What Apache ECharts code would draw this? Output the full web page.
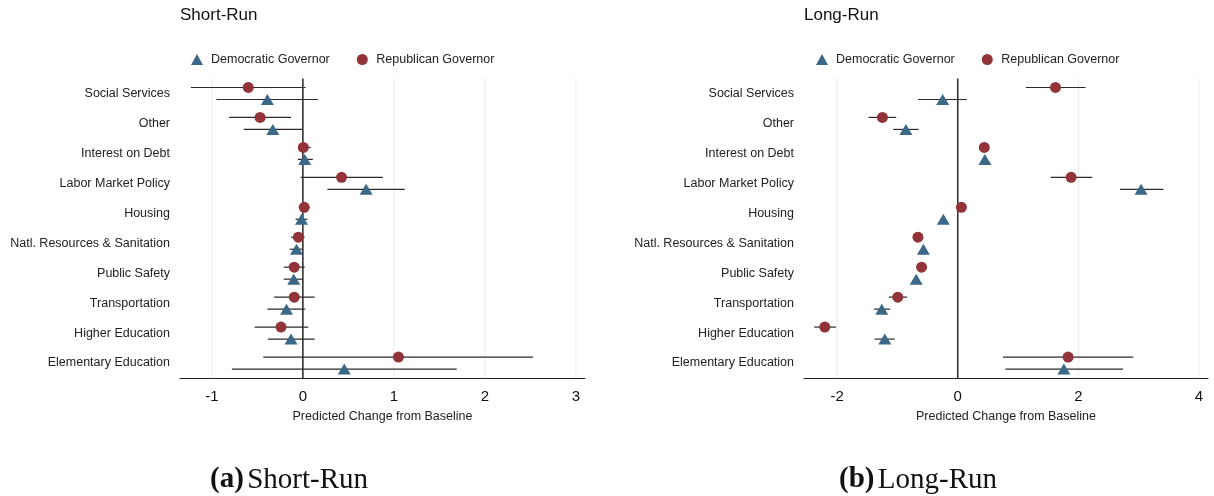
<!DOCTYPE html>
<html>
<head>
<meta charset="utf-8">
<script src="https://cdn.jsdelivr.net/npm/echarts@6/dist/echarts.min.js"></script>
<style>
html,body{margin:0;padding:0;background:#fff;}
#chart{width:1214px;height:496px;}
</style>
</head>
<body>
<div id="chart"></div>
<script>
const categories = ['Social Services','Other','Interest on Debt','Labor Market Policy','Housing','Natl. Resources & Sanitation','Public Safety','Transportation','Higher Education','Elementary Education'];

const shortDem   = [-0.39, -0.33, 0.02, 0.695, -0.015, -0.07, -0.10, -0.18, -0.13, 0.455];
const shortDemLo = [-0.95, -0.65, -0.055, 0.27, -0.08, -0.145, -0.21, -0.39, -0.385, -0.78];
const shortDemHi = [0.165, -0.01, 0.11, 1.12, 0.05, 0.0, 0.0, 0.025, 0.13, 1.69];
const shortRep   = [-0.60, -0.47, 0.005, 0.425, 0.015, -0.05, -0.095, -0.095, -0.24, 1.05];
const shortRepLo = [-1.23, -0.81, -0.04, -0.025, -0.03, -0.13, -0.21, -0.315, -0.53, -0.435];
const shortRepHi = [0.03, -0.13, 0.085, 0.88, 0.07, 0.02, 0.02, 0.13, 0.06, 2.53];

const longDem   = [-0.25, -0.86, 0.45, 3.04, -0.24, -0.57, -0.69, -1.26, -1.21, 1.76];
const longDemLo = [-0.66, -1.07, 0.43, 2.69, -0.26, -0.59, -0.71, -1.39, -1.38, 0.79];
const longDemHi = [0.15, -0.65, 0.47, 3.41, -0.22, -0.55, -0.67, -1.12, -1.045, 2.74];
const longRep   = [1.62, -1.25, 0.44, 1.88, 0.06, -0.66, -0.60, -0.995, -2.205, 1.83];
const longRepLo = [1.13, -1.48, 0.42, 1.54, 0.04, -0.68, -0.62, -1.14, -2.38, 0.75];
const longRepHi = [2.12, -1.02, 0.46, 2.23, 0.08, -0.64, -0.58, -0.84, -2.02, 2.91];

const shortTicks = [-1, 0, 1, 2, 3];
const longTicks = [-2, 0, 2, 4];

const DEM = 'Democratic Governor';
const REP = 'Republican Governor';
const DEM_COLOR = '#3b6887';
const REP_COLOR = '#923339';
const SANS = "'Liberation Sans', Arial, Helvetica, sans-serif";
const SERIF = "'Liberation Serif', 'Times New Roman', serif";
const REP_OFF = -6, DEM_OFF = 6;

const chart = echarts.init(document.getElementById('chart'), null, {renderer: 'canvas'});

function pts(vals) { return vals.map((v, i) => [v, i]); }
function bars(lo, hi) { return lo.map((l, i) => [l, hi[i], i]); }

function gridLineSeries(gi, ticks) {
  return {
    type: 'custom',
    xAxisIndex: gi, yAxisIndex: gi,
    silent: true,
    z: 1,
    data: ticks.map(t => [t, 0]),
    encode: {x: 0, y: 1},
    renderItem: function (params, api) {
      const t = api.value(0);
      const p = api.coord([t, 0]);
      const cs = params.coordSys;
      return {
        type: 'line',
        z2: t === 0 ? 10 : 0,
        shape: {x1: p[0], y1: cs.y, x2: p[0], y2: cs.y + cs.height},
        style: t === 0 ? {stroke: '#333', lineWidth: 1.6} : {stroke: '#ececec', lineWidth: 1}
      };
    }
  };
}

function errSeries(gi, lo, hi, off) {
  return {
    type: 'custom',
    xAxisIndex: gi, yAxisIndex: gi,
    silent: true,
    z: 2,
    data: bars(lo, hi),
    encode: {x: [0, 1], y: 2},
    renderItem: function (params, api) {
      const p1 = api.coord([api.value(0), api.value(2)]);
      const p2 = api.coord([api.value(1), api.value(2)]);
      return {
        type: 'line',
        shape: {x1: p1[0], y1: p1[1] + off, x2: p2[0], y2: p2[1] + off},
        style: {stroke: '#2a2a2a', lineWidth: 1.2}
      };
    }
  };
}

function pointSeries(gi, name, vals, color, sym, size, off) {
  return {
    name: name, type: 'scatter',
    xAxisIndex: gi, yAxisIndex: gi,
    z: 5,
    symbol: sym, symbolSize: size,
    symbolOffset: [0, off],
    itemStyle: {color: color, opacity: 1},
    data: pts(vals)
  };
}

function xAxisDef(gi, min, max, ticks) {
  return {
    type: 'value', gridIndex: gi, min: min, max: max,
    name: 'Predicted Change from Baseline', nameLocation: 'middle', nameGap: 32,
    nameTextStyle: {fontSize: 12.5, color: '#222', fontFamily: SANS},
    axisLine: {show: true, lineStyle: {color: '#222', width: 1}},
    axisTick: {show: false, customValues: ticks},
    splitLine: {show: false},
    axisLabel: {customValues: ticks, fontSize: 15, color: '#111', fontFamily: SANS, margin: 11}
  };
}

function yAxisDef(gi) {
  return {
    type: 'category', gridIndex: gi, data: categories, inverse: true,
    axisLine: {show: false}, axisTick: {show: false},
    splitLine: {show: false},
    axisLabel: {fontSize: 12.5, color: '#222', fontFamily: SANS, margin: 10, padding: [5, 0, 0, 0]}
  };
}

function legendDef(left) {
  return {
    left: left, top: 53, itemWidth: 12, itemHeight: 11, itemGap: 27,
    padding: 0,
    textStyle: {fontSize: 12.5, color: '#222', fontFamily: SANS, padding: [0, 0, 0, 3]},
    data: [DEM, REP]
  };
}

const captionRich = {
  b: {fontFamily: SERIF, fontSize: 29, fontWeight: 'bold', fill: '#111'},
  n: {fontFamily: SERIF, fontSize: 29, fill: '#111'}
};

const option = {
  backgroundColor: '#fff',
  animation: false,
  title: [
    {text: 'Short-Run', left: 180, top: 7, padding: 0, textStyle: {fontSize: 17, fontWeight: 'normal', color: '#111', fontFamily: SANS}},
    {text: 'Long-Run', left: 804, top: 7, padding: 0, textStyle: {fontSize: 17, fontWeight: 'normal', color: '#111', fontFamily: SANS}}
  ],
  legend: [legendDef(191), legendDef(816)],
  grid: [
    {left: 180, top: 78.5, width: 405, height: 299.5},
    {left: 804, top: 78.5, width: 404, height: 299.5}
  ],
  xAxis: [xAxisDef(0, -1.35, 3.1, shortTicks), xAxisDef(1, -2.55, 4.15, longTicks)],
  yAxis: [yAxisDef(0), yAxisDef(1)],
  graphic: [
    {type: 'text', x: 289, y: 480, style: {
      text: '{b|(a)} {n|Short-Run}', align: 'center', verticalAlign: 'middle', rich: captionRich
    }},
    {type: 'text', x: 918, y: 480, style: {
      text: '{b|(b)} {n|Long-Run}', align: 'center', verticalAlign: 'middle', rich: captionRich
    }}
  ],
  series: [
    gridLineSeries(0, shortTicks),
    errSeries(0, shortRepLo, shortRepHi, REP_OFF),
    errSeries(0, shortDemLo, shortDemHi, DEM_OFF),
    pointSeries(0, DEM, shortDem, DEM_COLOR, 'triangle', [13, 11], DEM_OFF),
    pointSeries(0, REP, shortRep, REP_COLOR, 'circle', 11, REP_OFF),
    gridLineSeries(1, longTicks),
    errSeries(1, longRepLo, longRepHi, REP_OFF),
    errSeries(1, longDemLo, longDemHi, DEM_OFF),
    pointSeries(1, DEM, longDem, DEM_COLOR, 'triangle', [13, 11], DEM_OFF),
    pointSeries(1, REP, longRep, REP_COLOR, 'circle', 11, REP_OFF)
  ]
};
chart.setOption(option);
</script>
</body>
</html>
